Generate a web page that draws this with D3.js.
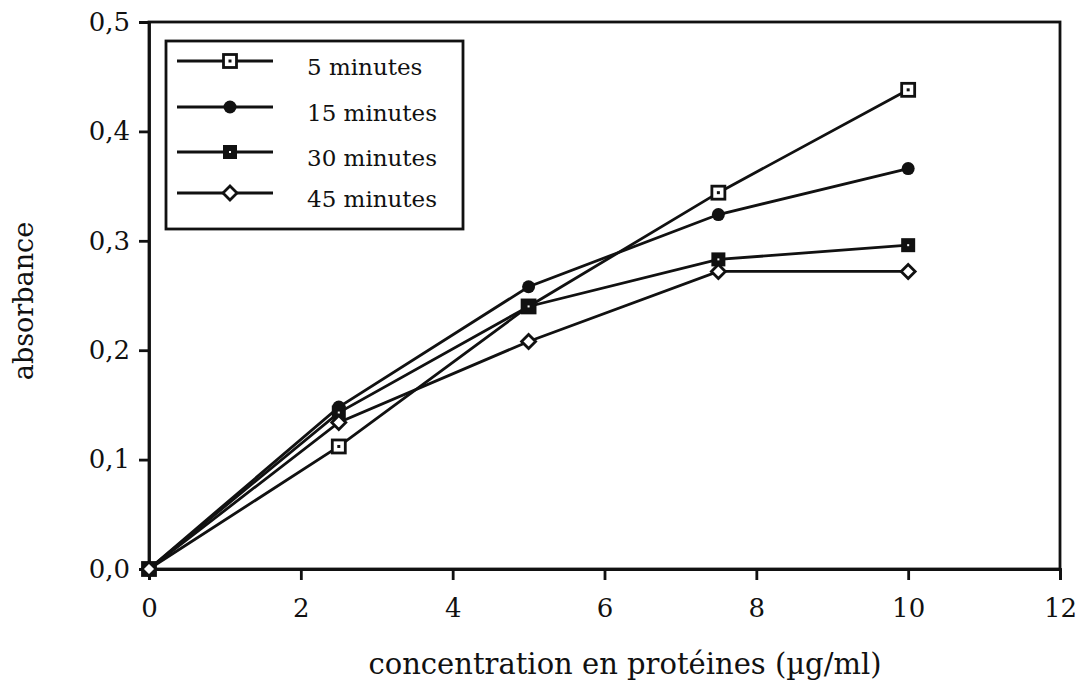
<!DOCTYPE html>
<html>
<head>
<meta charset="utf-8">
<script src="https://cdn.jsdelivr.net/npm/d3@7"></script>
<style>
  body { margin: 0; background: #fff; }
  text { font-family: "DejaVu Serif", serif; fill: #111; }
</style>
</head>
<body>
<script>
// concentrations (µg/ml)
const conc = [0, 2.5, 5, 7.5, 10];
const seriesNames = ["5 minutes", "15 minutes", "30 minutes", "45 minutes"];
const min5 = [0, 0.112, 0.240, 0.344, 0.438];
const min15 = [0, 0.148, 0.258, 0.324, 0.366];
const min30 = [0, 0.143, 0.240, 0.283, 0.296];
const min45 = [0, 0.134, 0.208, 0.272, 0.272];
const xTicks = [0, 2, 4, 6, 8, 10, 12];
const yTicks = [0, 0.1, 0.2, 0.3, 0.4, 0.5];

const allSeries = [min5, min15, min30, min45];
const markers = ["openSquare", "dot", "filledSquare", "diamond"];

const W = 1078, H = 682;
const m = { left: 149, right: 18, top: 22, bottom: 113 };
const SW = 2.8;

const svg = d3.select('body').append('svg')
    .attr('width', W).attr('height', H);

const x = d3.scaleLinear().domain([0, 12]).range([m.left, W - m.right]);
const y = d3.scaleLinear().domain([0, 0.5]).range([H - m.bottom, m.top]);

// cadre
svg.append('rect')
    .attr('x', x(0)).attr('y', y(0.5))
    .attr('width', x(12) - x(0)).attr('height', y(0) - y(0.5))
    .attr('fill', 'none').attr('stroke', '#111').attr('stroke-width', SW);

const fmt = d => d3.format('.1f')(d).replace('.', ',');

const xAxis = svg.append('g')
    .attr('transform', `translate(0,${y(0)})`)
    .call(d3.axisBottom(x).tickValues(xTicks).tickSize(11).tickPadding(19).tickFormat(d3.format('d')));
const yAxis = svg.append('g')
    .attr('transform', `translate(${x(0)},0)`)
    .call(d3.axisLeft(y).tickValues(yTicks).tickSize(10).tickPadding(9).tickFormat(fmt));

[xAxis, yAxis].forEach(g => {
    g.select('.domain').attr('stroke', '#111').attr('stroke-width', SW);
    g.selectAll('.tick line').attr('stroke', '#111').attr('stroke-width', SW);
    g.selectAll('.tick text').style('font-family', '"DejaVu Serif", serif')
        .style('font-size', '26px').attr('fill', '#111');
});

svg.append('text')
    .attr('x', 625).attr('y', 674)
    .attr('text-anchor', 'middle')
    .style('font-size', '29px')
    .text('concentration en protéines (µg/ml)');

svg.append('text')
    .attr('transform', 'translate(33,301) rotate(-90)')
    .attr('text-anchor', 'middle')
    .style('font-size', '27px')
    .text('absorbance');

const line = d3.line().x((d, i) => x(conc[i])).y(d => y(d));

function drawMarker(g, type, cx, cy) {
    if (type === 'openSquare') {
        g.append('rect').attr('x', cx - 6.5).attr('y', cy - 6.5).attr('width', 13).attr('height', 13)
            .attr('fill', '#fff').attr('stroke', '#111').attr('stroke-width', SW);
        g.append('rect').attr('x', cx - 1.5).attr('y', cy - 1.5).attr('width', 3).attr('height', 3).attr('fill', '#111');
    } else if (type === 'dot') {
        g.append('circle').attr('cx', cx).attr('cy', cy).attr('r', 6.5).attr('fill', '#111');
    } else if (type === 'filledSquare') {
        g.append('rect').attr('x', cx - 7).attr('y', cy - 7).attr('width', 14).attr('height', 14).attr('fill', '#111');
        g.append('rect').attr('x', cx - 1).attr('y', cy - 1).attr('width', 2).attr('height', 2).attr('fill', '#fff');
    } else {
        g.append('path')
            .attr('d', `M${cx},${cy - 7}L${cx + 7},${cy}L${cx},${cy + 7}L${cx - 7},${cy}Z`)
            .attr('fill', '#fff').attr('stroke', '#111').attr('stroke-width', SW);
    }
}

allSeries.forEach((s, k) => {
    svg.append('path')
        .datum(s)
        .attr('d', line)
        .attr('fill', 'none')
        .attr('stroke', '#111')
        .attr('stroke-width', SW);
});
allSeries.forEach((s, k) => {
    const g = svg.append('g');
    s.forEach((v, i) => drawMarker(g, markers[k], x(conc[i]), y(v)));
});

// légende
const leg = svg.append('g');
leg.append('rect')
    .attr('x', 166).attr('y', 41).attr('width', 297).attr('height', 188)
    .attr('fill', '#fff').attr('stroke', '#111').attr('stroke-width', SW);
const legY = [61, 107, 152, 193];
seriesNames.forEach((name, k) => {
    leg.append('line')
        .attr('x1', 177).attr('x2', 273)
        .attr('y1', legY[k]).attr('y2', legY[k])
        .attr('stroke', '#111').attr('stroke-width', SW);
    drawMarker(leg, markers[k], 230, legY[k]);
    leg.append('text')
        .attr('x', 307).attr('y', legY[k] + 14)
        .style('font-size', '23px')
        .text(name);
});
</script>
</body>
</html>
